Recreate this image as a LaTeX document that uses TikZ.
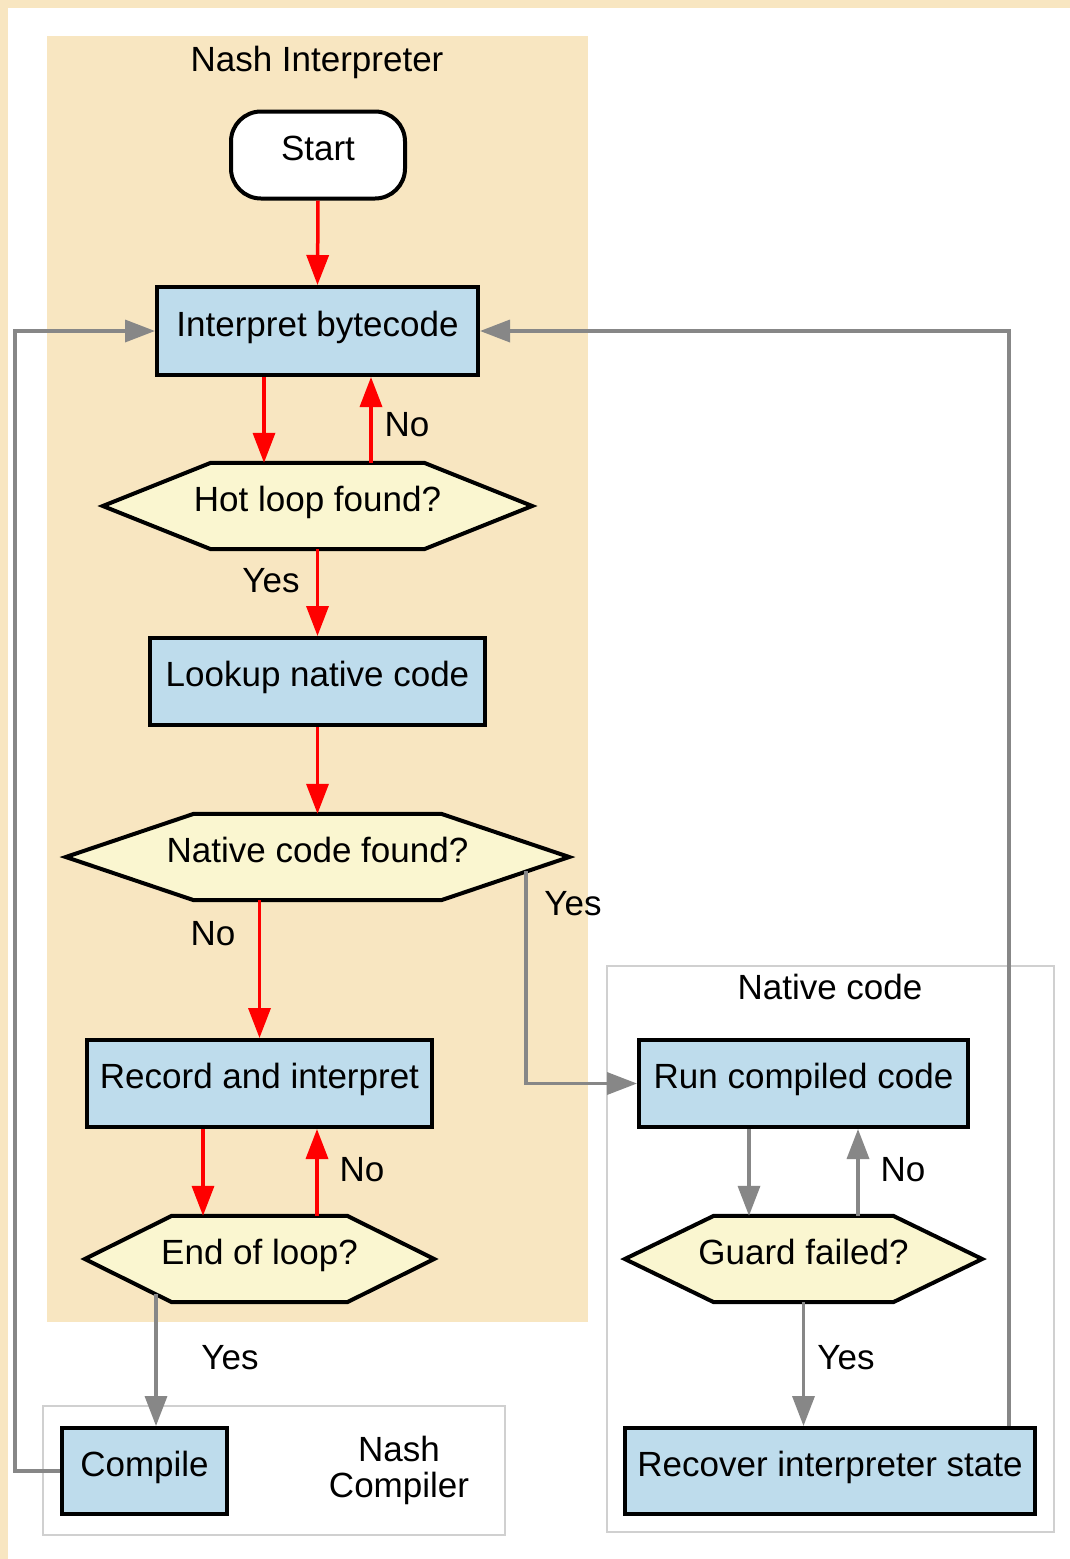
\documentclass[tikz,border=0pt]{standalone}
\usepackage{fontspec}
\setmainfont{Liberation Sans}
\usetikzlibrary{arrows.meta,calc}
\pgfdeclarelayer{bg}
\pgfdeclarelayer{mid}
\pgfsetlayers{bg,mid,main}
\definecolor{beige}{HTML}{F8E6C1}
\definecolor{boxblue}{HTML}{BEDCEC}
\definecolor{hexyellow}{HTML}{FAF6D0}
\definecolor{arrgray}{HTML}{878787}
\definecolor{clgray}{HTML}{D0D0D0}
\newcommand{\hexpath}[2]{%
 \begin{pgfonlayer}{mid}
 \draw[hexline] (#1.west) -- ($(#1.north west)+(#2,0)$) -- ($(#1.north east)+(-#2,0)$) -- (#1.east) -- ($(#1.south east)+(-#2,0)$) -- ($(#1.south west)+(#2,0)$) -- cycle;
 \end{pgfonlayer}}
\begin{document}
\begin{tikzpicture}[x=1pt,y=-1pt,
 font=\fontsize{35}{37}\selectfont,
 txt/.style={inner sep=0pt, text height=1.0em, text depth=0em},
 procbox/.style={txt, draw=black, line width=4pt, fill=boxblue},
 startbox/.style={txt, draw=black, line width=4pt, fill=white, rounded corners=30pt},
 hexnode/.style={txt, draw=none},
 hexline/.style={draw=black, line width=4pt, fill=hexyellow},
 redarr/.style={draw=red, line width=3.5pt, -{Triangle[length=30pt,width=22pt]}},
 grayarr/.style={draw=arrgray, line width=3.5pt, -{Triangle[length=30pt,width=22pt]}},
 lbl/.style={txt},
 cluster/.style={draw=clgray, line width=2pt, fill=white}]
\useasboundingbox (0,0) rectangle (1070,1559);
\begin{pgfonlayer}{bg}
 \fill[beige] (0,0) rectangle (1070,1559);
 \fill[white] (8,8) rectangle (1070,1559);
 \fill[beige] (47,36) rectangle (588,1322);
 \path[cluster] (607,966) rectangle (1054,1532);
 \path[cluster] (43,1406) rectangle (505,1535);
\end{pgfonlayer}

% cluster titles
\node[lbl] (tInterp) at (317,66) {Nash Interpreter};
\node[lbl] (tNative) at (830,994) {Native code};
\node[inner sep=0pt, align=center, font=\fontsize{35}{36}\selectfont] (tComp) at (399,1470) {Nash\\Compiler};

% nodes
\node[startbox, minimum width=174, minimum height=87] (start) at (318,155) {Start};
\node[procbox, minimum width=321, minimum height=88] (interp) at (317.5,331) {Interpret bytecode};
\node[hexnode, minimum width=429, minimum height=86] (hot) at (317.5,506) {Hot loop found?};
\node[procbox, minimum width=335, minimum height=87] (lookup) at (317.5,681.5) {Lookup native code};
\node[hexnode, minimum width=503, minimum height=86] (nat) at (317.5,857) {Native code found?};
\node[procbox, minimum width=345, minimum height=87] (rec) at (259.5,1083.5) {Record and interpret};
\node[hexnode, minimum width=349, minimum height=86] (eol) at (259.5,1259) {End of loop?};
\node[procbox, minimum width=329, minimum height=87] (run) at (803.5,1083.5) {Run compiled code};
\node[hexnode, minimum width=357, minimum height=86] (guard) at (803.5,1259) {Guard failed?};
\node[procbox, minimum width=410, minimum height=86] (recover) at (830,1471) {Recover interpreter state};
\node[procbox, minimum width=165, minimum height=86] (compile) at (144.5,1471) {Compile};

\hexpath{hot}{108}
\hexpath{nat}{128}
\hexpath{eol}{87}
\hexpath{guard}{89}

% edges
\draw[redarr] (start.south) -- (interp.north);
\draw[redarr] ($(interp.south)+(-53.5,0)$) -- ($(hot.north)+(-53.5,0)$);
\draw[redarr] ($(hot.north)+(53.5,0)$) -- ($(interp.south)+(53.5,0)$);
\draw[redarr] (hot.south) -- (lookup.north);
\draw[redarr] (lookup.south) -- (nat.north);
\draw[redarr] (nat.south -| rec.north) -- (rec.north);
\draw[redarr] ($(rec.south)+(-56.5,0)$) -- ($(eol.north)+(-56.5,0)$);
\draw[redarr] ($(eol.north)+(57.5,0)$) -- ($(rec.south)+(57.5,0)$);
\draw[grayarr] ($(nat.center)+(208.5,14)$) |- (run.west);
\draw[grayarr] ($(eol.center)+(-103.5,35)$) -- (compile.north -| {$(eol.center)+(-103.5,0)$});
\draw[grayarr] (compile.west) -- ++(-45,0) |- (interp.west);
\draw[grayarr] ($(run.south)+(-54.5,0)$) -- ($(guard.north)+(-54.5,0)$);
\draw[grayarr] ($(guard.north)+(54.5,0)$) -- ($(run.south)+(54.5,0)$);
\draw[grayarr] (guard.south) -- (guard.south |- recover.north);
\draw[grayarr] ($(recover.north east)+(-28,0)$) |- (interp.east);

% edge labels
\node[lbl] (lNo1) at (407,431) {No};
\node[lbl] (lYes1) at (271,587) {Yes};
\node[lbl] (lNo2) at (213,940) {No};
\node[lbl] (lYes2) at (573,910) {Yes};
\node[lbl] (lNo3) at (362,1176) {No};
\node[lbl] (lYes3) at (230,1364) {Yes};
\node[lbl] (lNo4) at (903,1176) {No};
\node[lbl] (lYes4) at (846,1364) {Yes};
\end{tikzpicture}
\end{document}
